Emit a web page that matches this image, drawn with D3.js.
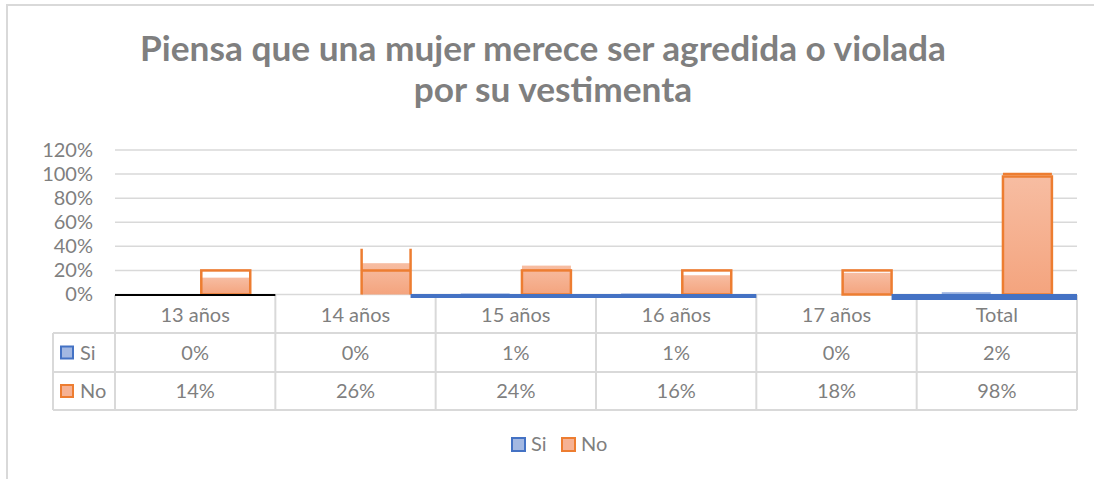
<!DOCTYPE html>
<html>
<head>
<meta charset="utf-8">
<script src="https://cdn.jsdelivr.net/npm/d3@7"></script>
<style>
  html, body { margin: 0; padding: 0; background: #fff; }
  svg { display: block; font-family: Lato, 'Open Sans', sans-serif; }
</style>
</head>
<body>
<svg id="grafico"></svg>
<script>
// datos del gráfico
const categorias = ['13 años', '14 años', '15 años', '16 años', '17 años', 'Total'];
const valoresSi = [0, 0, 0.01, 0.01, 0, 0.02];
const valoresNo = [0.14, 0.26, 0.24, 0.16, 0.18, 0.98];
const etiquetasSi = ['0%', '0%', '1%', '1%', '0%', '2%'];
const etiquetasNo = ['14%', '26%', '24%', '16%', '18%', '98%'];
const ticksY = [0, 0.2, 0.4, 0.6, 0.8, 1.0, 1.2];
const titulo = ['Piensa que una mujer merece ser agredida o violada', 'por su vestimenta'];

// marcas dibujadas a mano encima del gráfico
const recuadrosNo = [0.20, null, 0.20, 0.20, 0.20, 0.98];   // tope del recuadro naranja
const recuadroAbierto = { cat: '14 años', alto: 0.38, medio: 0.20 };
const lineaTotal = 1.0;
const subrayados = [
  { desde: '13 años', inicio: 'cat', hasta: '13 años', color: '#000000', grosor: 2 },
  { desde: '14 años', inicio: 'no', hasta: '16 años', color: '#4472C4', grosor: 4 },
  { desde: '17 años', inicio: 'no', hasta: 'Total', color: '#4472C4', grosor: 6 }
];

const width = 1094, height = 479;
const gris = '#7f7f7f', linea = '#d9d9d9';
const x0 = 115, x1 = 1077, yTop = 150, yBase = 294.5;

const svg = d3.select('#grafico').attr('width', width).attr('height', height);

const defs = svg.append('defs');
const gNo = defs.append('linearGradient').attr('id', 'gradNo').attr('x1', 0).attr('y1', 0).attr('x2', 0).attr('y2', 1);
gNo.append('stop').attr('offset', '0%').attr('stop-color', '#f7bda2');
gNo.append('stop').attr('offset', '100%').attr('stop-color', '#f4a47e');
const gSi = defs.append('linearGradient').attr('id', 'gradSi').attr('x1', 0).attr('y1', 0).attr('x2', 0).attr('y2', 1);
gSi.append('stop').attr('offset', '0%').attr('stop-color', '#a9bde6');
gSi.append('stop').attr('offset', '100%').attr('stop-color', '#8eaadc');

// marco exterior
svg.append('rect').attr('x', 7).attr('y', 5).attr('width', width + 10).attr('height', height + 10)
  .attr('fill', 'none').attr('stroke', linea).attr('stroke-width', 2);

// titulo
const tit = svg.append('g').attr('font-weight', 700).attr('fill', gris).attr('text-anchor', 'middle');
const t1 = tit.append('text').attr('x', 543).attr('y', 61).attr('font-size', 30).text(titulo[0]);
const w1 = t1.node().getComputedTextLength();
const fs = 30 * 806 / w1;
t1.attr('font-size', fs);
tit.append('text').attr('x', 553).attr('y', 102).attr('font-size', fs).text(titulo[1]);

// escalas
const xScale = d3.scaleBand().domain(categorias).range([x0, x1]);
const xSub = d3.scaleBand().domain(['Si', 'No']).range([0, xScale.bandwidth()])
  .paddingInner(0.2).paddingOuter(0.41);
const yScale = d3.scaleLinear().domain([0, 1.2]).range([yBase, yTop]);

// rejilla
svg.append('g').selectAll('line').data(ticksY).enter().append('line')
  .attr('x1', x0).attr('x2', x1)
  .attr('y1', d => yScale(d)).attr('y2', d => yScale(d))
  .attr('stroke', linea).attr('stroke-width', 1.5);

// eje y
const yAxis = d3.axisLeft(yScale).tickValues(ticksY).tickFormat(d3.format('.0%')).tickSize(0).tickPadding(0);
const gy = svg.append('g').attr('transform', 'translate(93,0)').call(yAxis);
gy.select('.domain').remove();
gy.selectAll('text').attr('font-size', 20).attr('fill', gris).attr('font-family', 'Lato, sans-serif');

// barras
const filas = categorias.map((c, i) => ({ cat: c, si: valoresSi[i], no: valoresNo[i], caja: recuadrosNo[i] }));
svg.append('g').selectAll('rect').data(filas).enter().append('rect')
  .attr('x', d => xScale(d.cat) + xSub('Si'))
  .attr('y', d => yScale(d.si))
  .attr('width', xSub.bandwidth())
  .attr('height', d => yBase - yScale(d.si))
  .attr('fill', 'url(#gradSi)');
svg.append('g').selectAll('rect').data(filas).enter().append('rect')
  .attr('x', d => xScale(d.cat) + xSub('No'))
  .attr('y', d => yScale(d.no))
  .attr('width', xSub.bandwidth())
  .attr('height', d => yBase - yScale(d.no))
  .attr('fill', 'url(#gradNo)');

// recuadros naranjas
const naranja = '#ED7D31';
svg.append('g').selectAll('rect').data(filas.filter(d => d.caja !== null)).enter().append('rect')
  .attr('x', d => xScale(d.cat) + xSub('No'))
  .attr('y', d => yScale(d.caja))
  .attr('width', xSub.bandwidth())
  .attr('height', d => yBase - yScale(d.caja))
  .attr('fill', 'none').attr('stroke', naranja).attr('stroke-width', 2.5);

const xa = xScale(recuadroAbierto.cat) + xSub('No');
const abierto = svg.append('g').attr('stroke', naranja).attr('stroke-width', 2.5);
[xa, xa + xSub.bandwidth()].forEach(xx => {
  abierto.append('line').attr('x1', xx).attr('x2', xx)
    .attr('y1', yScale(recuadroAbierto.alto)).attr('y2', yBase);
});
abierto.append('line').attr('x1', xa).attr('x2', xa + xSub.bandwidth())
  .attr('y1', yScale(recuadroAbierto.medio)).attr('y2', yScale(recuadroAbierto.medio));

svg.append('line')
  .attr('x1', xScale('Total') + xSub('No')).attr('x2', xScale('Total') + xSub('No') + xSub.bandwidth())
  .attr('y1', yScale(lineaTotal)).attr('y2', yScale(lineaTotal))
  .attr('stroke', naranja).attr('stroke-width', 2.5);

// tabla de datos
const filaY = [295, 333, 372, 410];
const tabla = svg.append('g').attr('stroke', linea).attr('stroke-width', 2);
const bordes = categorias.map(c => xScale(c)).concat([x1]);
tabla.selectAll('.v').data(bordes).enter().append('line')
  .attr('x1', d => d).attr('x2', d => d)
  .attr('y1', filaY[0]).attr('y2', filaY[3]);
tabla.append('line').attr('x1', 53).attr('x2', 53).attr('y1', filaY[1]).attr('y2', filaY[3]);
filaY.slice(1).forEach(yy => {
  tabla.append('line').attr('x1', 53).attr('x2', x1).attr('y1', yy).attr('y2', yy);
});

const textos = svg.append('g').attr('font-size', 20).attr('fill', gris).attr('text-anchor', 'middle');
textos.selectAll('.c').data(categorias).enter().append('text')
  .attr('x', d => xScale(d) + xScale.bandwidth() / 2).attr('y', 322).text(d => d);
textos.selectAll('.s').data(etiquetasSi).enter().append('text')
  .attr('x', (d, i) => xScale(categorias[i]) + xScale.bandwidth() / 2).attr('y', 359.5).text(d => d);
textos.selectAll('.n').data(etiquetasNo).enter().append('text')
  .attr('x', (d, i) => xScale(categorias[i]) + xScale.bandwidth() / 2).attr('y', 398).text(d => d);

// claves de la tabla y leyenda
const series = [
  { nombre: 'Si', relleno: '#a3b8e2', borde: '#4472C4' },
  { nombre: 'No', relleno: '#f6b294', borde: naranja }
];
series.forEach((s, i) => {
  const yc = [352.5, 391][i];
  svg.append('rect').attr('x', 61).attr('y', yc - 6).attr('width', 12).attr('height', 12)
    .attr('fill', s.relleno).attr('stroke', s.borde).attr('stroke-width', 2);
  svg.append('text').attr('x', 80).attr('y', yc + 7).attr('font-size', 20).attr('fill', gris).text(s.nombre);
});

const leyX = [512, 562];
series.forEach((s, i) => {
  svg.append('rect').attr('x', leyX[i]).attr('y', 438).attr('width', 13).attr('height', 13)
    .attr('fill', s.relleno).attr('stroke', s.borde).attr('stroke-width', 2);
  svg.append('text').attr('x', leyX[i] + 19).attr('y', 451).attr('font-size', 20).attr('fill', gris).text(s.nombre);
});

// subrayados a mano sobre la base
subrayados.forEach(s => {
  const xi = s.inicio === 'cat' ? xScale(s.desde) : xScale(s.desde) + xSub('No') + xSub.bandwidth();
  const xf = xScale(s.hasta) + xScale.bandwidth();
  svg.append('line').attr('x1', xi).attr('x2', xf)
    .attr('y1', yBase + s.grosor / 2 - 0.5).attr('y2', yBase + s.grosor / 2 - 0.5)
    .attr('stroke', s.color).attr('stroke-width', s.grosor);
});
</script>
</body>
</html>
